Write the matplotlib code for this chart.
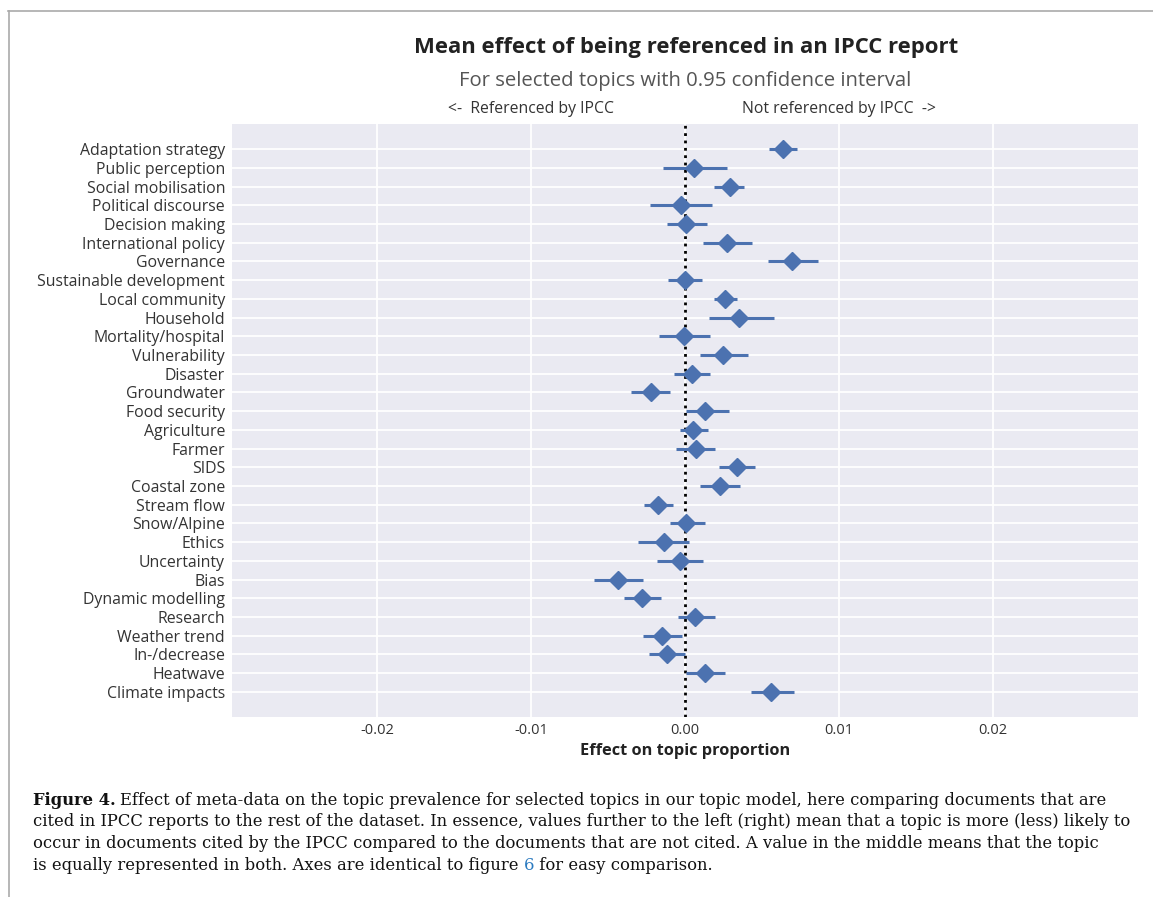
import matplotlib
matplotlib.use("Agg")
import matplotlib.pyplot as plt
from matplotlib.lines import Line2D
import numpy as np

# -----------------------------
# DATA
# -----------------------------

topics = [
    "Adaptation strategy", "Public perception", "Social mobilisation",
    "Political discourse", "Decision making", "International policy",
    "Governance", "Sustainable development", "Local community", "Household",
    "Mortality/hospital", "Vulnerability", "Disaster", "Groundwater",
    "Food security", "Agriculture", "Farmer", "SIDS", "Coastal zone",
    "Stream flow", "Snow/Alpine", "Ethics", "Uncertainty", "Bias",
    "Dynamic modelling", "Research", "Weather trend", "In-/decrease",
    "Heatwave", "Climate impacts",
]

effect = [
    0.00638, 0.00060, 0.00290, -0.00024, 0.00004, 0.00275, 0.00697, 0.00002,
    0.00260, 0.00350, -0.00006, 0.00245, 0.00043, -0.00223, 0.00132, 0.00052,
    0.00074, 0.00338, 0.00225, -0.00178, 0.00004, -0.00136, -0.00030, -0.00433,
    -0.00281, 0.00067, -0.00147, -0.00117, 0.00128, 0.00560,
]

ci_low = [
    0.00545, -0.00141, 0.00188, -0.00225, -0.00119, 0.00119, 0.00537, -0.00108,
    0.00186, 0.00156, -0.00169, 0.00100, -0.00074, -0.00348, 0.00004, -0.00035,
    -0.00056, 0.00223, 0.00097, -0.00264, -0.00099, -0.00305, -0.00180, -0.00593,
    -0.00396, -0.00045, -0.00273, -0.00231, 0.00006, 0.00429,
]

ci_high = [
    0.00730, 0.00270, 0.00385, 0.00177, 0.00141, 0.00435, 0.00866, 0.00112,
    0.00340, 0.00578, 0.00160, 0.00409, 0.00160, -0.00095, 0.00283, 0.00149,
    0.00195, 0.00455, 0.00355, -0.00080, 0.00132, 0.00024, 0.00119, -0.00273,
    -0.00158, 0.00197, -0.00017, -0.00002, 0.00262, 0.00710,
]

xticks = [-0.02, -0.01, 0.0, 0.01, 0.02]

caption_lines = [
    "Effect of meta-data on the topic prevalence for selected topics in our topic model, here comparing documents that are",
    "cited in IPCC reports to the rest of the dataset. In essence, values further to the left (right) mean that a topic is more (less) likely to",
    "occur in documents cited by the IPCC compared to the documents that are not cited. A value in the middle means that the topic",
    "is equally represented in both. Axes are identical to figure ",
]

# -----------------------------
# STYLE
# -----------------------------

BLUE = "#4C72B0"
plt.rcParams["font.family"] = ["Open Sans", "DejaVu Sans"]

W, H = 1153, 897
fig = plt.figure(figsize=(W / 100, H / 100), dpi=100)
fig.patch.set_facecolor("white")

# axes box in pixels: left 232, right 1138, top 124, bottom 717
ax = fig.add_axes([232 / W, 1 - 717 / H, (1138 - 232) / W, (717 - 124) / H])
ax.set_facecolor("#EAEAF2")
for s in ax.spines.values():
    s.set_visible(False)

ypos = np.arange(len(topics))
err = [np.array(effect) - np.array(ci_low), np.array(ci_high) - np.array(effect)]

ax.errorbar(effect, ypos, xerr=err, fmt="D", color=BLUE, ecolor=BLUE,
            elinewidth=2.2, markersize=9, capsize=0, zorder=3)
ax.axvline(0, color="black", linestyle=":", linewidth=2, zorder=2)

ax.set_yticks(ypos)
ax.set_yticklabels(topics, fontsize=11.4, color="#333333")
ax.set_xticks(xticks)
ax.set_xticklabels([f"{t:.2f}" for t in xticks], fontsize=10.5, color="#333333")
ax.tick_params(axis="y", length=0, pad=5)
ax.tick_params(axis="x", length=0, pad=4)
ax.grid(True, color="white", linewidth=1.3)
ax.set_axisbelow(True)

ax.set_xlim(-0.0294, 0.0294)
ax.set_ylim(len(topics) - 1 + 1.34, -1.34)

ax.set_xlabel("Effect on topic proportion", fontsize=11.8, fontweight="bold",
              color="#222222", labelpad=4)

# -----------------------------
# TITLES
# -----------------------------

fig.text(686 / W, 1 - 48 / H, "Mean effect of being referenced in an IPCC report",
         ha="center", va="center", fontsize=15.9, fontweight="bold", color="#222222")
fig.text(685 / W, 1 - 81 / H, "For selected topics with 0.95 confidence interval",
         ha="center", va="center", fontsize=14.6, color="#555555")
ax.text(-0.01, 1.012, "<-  Referenced by IPCC", transform=ax.get_xaxis_transform(),
        ha="center", va="bottom", fontsize=11.3, color="#333333")
ax.text(0.01, 1.012, "Not referenced by IPCC  ->", transform=ax.get_xaxis_transform(),
        ha="center", va="bottom", fontsize=11.3, color="#333333")

# -----------------------------
# PAGE BORDER
# -----------------------------

fig.add_artist(Line2D([8 / W, 1], [1 - 11 / H, 1 - 11 / H], color="#AAAAAA", linewidth=1.2))
fig.add_artist(Line2D([9 / W, 9 / W], [0, 1 - 11 / H], color="#AAAAAA", linewidth=1.2))

# -----------------------------
# CAPTION
# -----------------------------

serif = ["DejaVu Serif"]
line_y = [800, 821, 843, 865]
x0 = 33 / W

fig.canvas.draw()
renderer = fig.canvas.get_renderer()

# size the caption so the longest line runs to ~1135 px like the original
probe = fig.text(x0, 0.5, caption_lines[1], family=serif, fontsize=10)
pw = probe.get_window_extent(renderer).width
probe.remove()
cap_size = 10 * (1134 - 33) / pw

bold = fig.text(x0, 1 - line_y[0] / H, "Figure 4.", family=serif, fontsize=cap_size,
                fontweight="bold", va="center", color="#111111")
bb = bold.get_window_extent(renderer)
fig.text(bb.x1 / W + 4 / W, 1 - line_y[0] / H, caption_lines[0], family=serif,
         fontsize=cap_size, va="center", color="#111111")

for line, y in zip(caption_lines[1:3], line_y[1:3]):
    fig.text(x0, 1 - y / H, line, family=serif, fontsize=cap_size, va="center", color="#111111")

last = fig.text(x0, 1 - line_y[3] / H, caption_lines[3], family=serif, fontsize=cap_size,
                va="center", color="#111111")
bb = last.get_window_extent(renderer)
six = fig.text(bb.x1 / W, 1 - line_y[3] / H, "6", family=serif, fontsize=cap_size,
               va="center", color="#2A7AC0")
bb = six.get_window_extent(renderer)
fig.text(bb.x1 / W, 1 - line_y[3] / H, " for easy comparison.", family=serif,
         fontsize=cap_size, va="center", color="#111111")

fig.savefig("out.png", dpi=100)
